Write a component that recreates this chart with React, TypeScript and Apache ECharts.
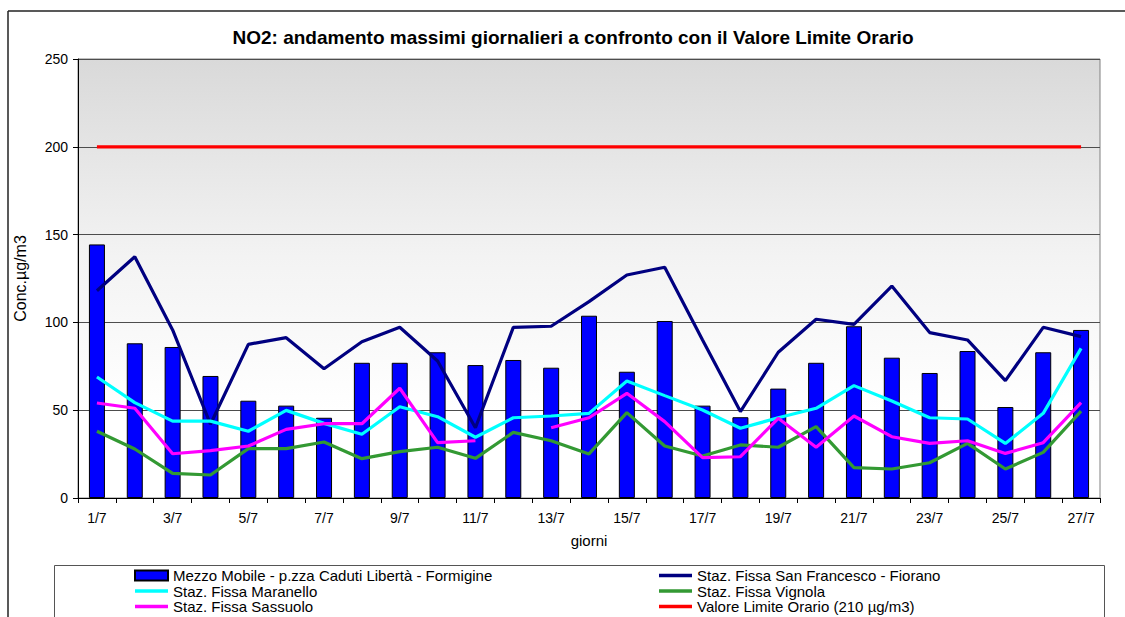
import React, { useEffect, useRef } from "react";
import * as echarts from "echarts";

const days = ["1/7","2/7","3/7","4/7","5/7","6/7","7/7","8/7","9/7","10/7","11/7","12/7","13/7","14/7","15/7","16/7","17/7","18/7","19/7","20/7","21/7","22/7","23/7","24/7","25/7","26/7","27/7"];
const mezzoMobile = [144.4, 88.1, 86, 69.5, 55.4, 52.6, 45.7, 77, 77, 83, 75.7, 78.6, 74.2, 103.8, 71.9, 100.8, 52.6, 46, 62.3, 77, 97.8, 79.9, 71.2, 83.7, 51.8, 83, 95.7];
const fiorano = [118, 137.4, 95.7, 42, 87.5, 91.3, 73.6, 89, 97.2, 78, 40, 97.2, 97.8, 111.8, 127, 131.4, 90, 49.2, 83, 101.8, 98.9, 120.7, 94.2, 90, 66.8, 97.2, 91.9];
const maranello = [68.9, 54.3, 43.8, 43.8, 38, 49.9, 42.5, 36.3, 52, 46.3, 34.6, 45.7, 46.7, 48.2, 66.6, 58.3, 50.1, 39.7, 45.7, 51.1, 64, 55.2, 45.7, 45, 31.1, 48.2, 85.2];
const vignola = [38, 27.9, 14, 13.1, 28.1, 28.1, 31.9, 22.4, 26.4, 28.9, 22.6, 37.4, 32.6, 25.1, 48.6, 29.6, 23.9, 30.2, 28.9, 40.6, 17.3, 16.5, 20.1, 31.1, 16.5, 26, 49.5];
const sassuolo = [54.1, 51.1, 25.2, 27, 29.6, 39.1, 42.3, 42.3, 62.5, 31.5, 32.6, null, 40, 45.7, 59.6, 43.5, 23, 23.5, 45.4, 28.9, 46.7, 34.9, 31.1, 32.6, 25.4, 31.5, 54.3];
const limitValue = [200, 200, 200, 200, 200, 200, 200, 200, 200, 200, 200, 200, 200, 200, 200, 200, 200, 200, 200, 200, 200, 200, 200, 200, 200, 200, 200];

const names = {
  mezzo: "Mezzo Mobile - p.zza Caduti Libertà - Formigine",
  fiorano: "Staz. Fissa San Francesco - Fiorano",
  maranello: "Staz. Fissa Maranello",
  vignola: "Staz. Fissa Vignola",
  sassuolo: "Staz. Fissa Sassuolo",
  limit: "Valore Limite Orario (210 µg/m3)",
};

const FONT = "'Liberation Sans', Arial, sans-serif";
const LINE_ICON = "path://M0,0H34V3.5H0Z";

export default function App() {
  const ref = useRef<HTMLDivElement>(null);
  useEffect(() => {
    if (!ref.current) return;
    const chart = echarts.init(ref.current, undefined, { renderer: "svg" });
    const line = (name: string, data: (number | null)[], color: string) => ({
      name,
      type: "line",
      data,
      symbol: "none",
      connectNulls: false,
      lineStyle: { color, width: 3.2 },
      itemStyle: { color },
      z: 3,
    });
    const legendText = { fontFamily: FONT, fontSize: 15, color: "#000", lineHeight: 15 };
    const legendCommon = {
      top: 568,
      orient: "vertical",
      padding: 0,
      height: 100,
      itemWidth: 33,
      itemHeight: 10,
      itemGap: 0.5,
      textStyle: legendText,
    };
    chart.setOption({
      animation: false,
      backgroundColor: "#fff",
      textStyle: { fontFamily: FONT },
      title: {
        text: "NO2: andamento massimi giornalieri a confronto con il Valore Limite Orario",
        left: 573,
        textAlign: "center",
        top: 28,
        padding: 0,
        textStyle: { fontFamily: FONT, fontSize: 19, fontWeight: "bold", color: "#000" },
      },
      grid: {
        left: 78,
        right: 25,
        top: 59,
        bottom: 119,
        show: true,
        borderColor: "#808080",
        borderWidth: 1,
        backgroundColor: new echarts.graphic.LinearGradient(0, 0, 0, 1, [
          { offset: 0, color: "#d9d9d9" },
          { offset: 0.45, color: "#f3f3f3" },
          { offset: 0.8, color: "#ffffff" },
          { offset: 1, color: "#ffffff" },
        ]),
      },
      legend: [
        {
          ...legendCommon,
          left: 134,
          data: [
            { name: names.mezzo, icon: "rect" },
            { name: names.maranello, icon: LINE_ICON },
            { name: names.sassuolo, icon: LINE_ICON },
          ],
        },
        {
          ...legendCommon,
          left: 659,
          data: [
            { name: names.fiorano, icon: LINE_ICON },
            { name: names.vignola, icon: LINE_ICON },
            { name: names.limit, icon: LINE_ICON },
          ],
        },
      ],
      xAxis: {
        type: "category",
        data: days,
        boundaryGap: true,
        name: "giorni",
        nameLocation: "middle",
        nameGap: 35,
        nameTextStyle: { fontFamily: FONT, fontSize: 15, color: "#000" },
        axisLine: { lineStyle: { color: "#000", width: 1 } },
        axisTick: { show: true, interval: 0, length: 5, lineStyle: { color: "#000" } },
        axisLabel: { interval: 1, fontFamily: FONT, fontSize: 14, color: "#000", margin: 13 },
      },
      yAxis: {
        type: "value",
        min: 0,
        max: 250,
        interval: 50,
        name: "Conc.µg/m3",
        nameLocation: "middle",
        nameRotate: 90,
        nameGap: 50,
        nameTextStyle: { fontFamily: FONT, fontSize: 16, color: "#000" },
        axisLine: { show: true, lineStyle: { color: "#000", width: 1 } },
        axisTick: { show: true, length: 5, lineStyle: { color: "#000" } },
        axisLabel: { fontFamily: FONT, fontSize: 14, color: "#000", margin: 10 },
        splitLine: { show: true, lineStyle: { color: "#4d4d4d", width: 1 } },
      },
      series: [
        {
          name: names.mezzo,
          type: "bar",
          data: mezzoMobile,
          barWidth: 16,
          itemStyle: { color: "#0000ff", borderColor: "#000", borderWidth: 1 },
          z: 2,
        },
        line(names.fiorano, fiorano, "#000080"),
        line(names.maranello, maranello, "#00ffff"),
        line(names.vignola, vignola, "#339933"),
        line(names.sassuolo, sassuolo, "#ff00ff"),
        line(names.limit, limitValue, "#ff0000"),
      ],
      graphic: [
        { type: "line", shape: { x1: 8, y1: 11, x2: 1125, y2: 11 }, style: { stroke: "#222", lineWidth: 1.5 } },
        { type: "line", shape: { x1: 8, y1: 11, x2: 8, y2: 617 }, style: { stroke: "#222", lineWidth: 1.5 } },
        { type: "rect", shape: { x: 54.5, y: 565.5, width: 1050, height: 70 }, style: { fill: "none", stroke: "#555", lineWidth: 1 }, z: -1 },
      ],
    });
    return () => chart.dispose();
  }, []);
  return <div ref={ref} style={{ width: 1125, height: 617, position: "absolute", left: 0, top: 0 }} />;
}
